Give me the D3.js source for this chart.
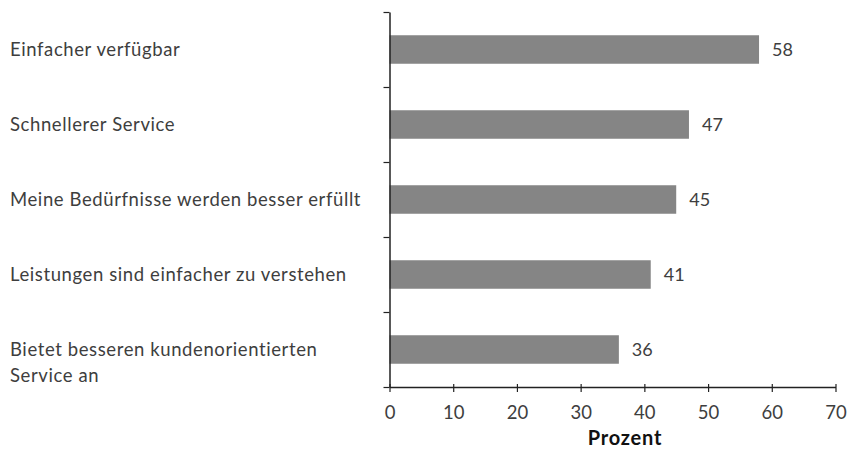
<!DOCTYPE html>
<html><head><meta charset="utf-8">
<script src="https://cdn.jsdelivr.net/npm/d3@7"></script>
<style>body{margin:0;background:#fff;} text{font-family:Lato, "Open Sans", sans-serif;}</style>
</head><body><svg id="c" width="851" height="450"></svg>
<script>
const categories = [
  ["Einfacher verfügbar"],
  ["Schnellerer Service"],
  ["Meine Bedürfnisse werden besser erfüllt"],
  ["Leistungen sind einfacher zu verstehen"],
  ["Bietet besseren kundenorientierten", "Service an"]
];
const values = [58, 47, 45, 41, 36];
const xTicks = [0, 10, 20, 30, 40, 50, 60, 70];
const xTitle = "Prozent";

const svg = d3.select("#c");
const m = {left: 389.5, right: 835.5, top: 12, bottom: 387};
const x = d3.scaleLinear().domain([0, 70]).range([m.left, m.right]);
const y = d3.scaleBand().domain(d3.range(categories.length)).range([m.top, m.bottom]).paddingInner(0.62).paddingOuter(0.31);

const txt = "#3e3e3e";

// bars
svg.selectAll("rect.bar").data(values).enter().append("rect")
  .attr("x", x(0)).attr("y", (d,i) => y(i))
  .attr("width", d => x(d) - x(0)).attr("height", y.bandwidth())
  .attr("fill", "#858585");

// value labels
svg.selectAll("text.val").data(values).enter().append("text")
  .attr("x", d => x(d) + 13).attr("y", (d,i) => y(i) + y.bandwidth()/2)
  .attr("dy", "0.35em").attr("font-size", 18).attr("fill", txt).text(d => d);

// y axis with ticks at band boundaries
const yLine = d3.scaleLinear().domain([0, categories.length]).range([m.top, m.bottom]);
const gy = svg.append("g").attr("transform", `translate(${m.left},0)`)
  .call(d3.axisLeft(yLine).tickValues(d3.range(categories.length + 1)).tickSize(6).tickFormat("").tickSizeOuter(0));
gy.select(".domain").attr("stroke", "#222").attr("stroke-width", 1.5);
gy.selectAll(".tick line").attr("stroke", "#222").attr("stroke-width", 1.2);

// category labels
categories.forEach((lines, i) => {
  const t = svg.append("text").attr("x", 10).attr("y", y(i) + y.bandwidth()/2)
    .attr("font-size", 18.5).attr("fill", txt).attr("letter-spacing", 0.6);
  lines.forEach((l, j) => t.append("tspan").attr("x", 10).attr("dy", j === 0 ? "0.35em" : 26).text(l));
});

// x axis
const gx = svg.append("g").attr("transform", `translate(0,${m.bottom})`)
  .call(d3.axisBottom(x).tickValues(xTicks).tickSize(5).tickSizeOuter(0).tickPadding(14));
gx.select(".domain").attr("stroke", "#222").attr("stroke-width", 1.5);
gx.selectAll(".tick line").attr("stroke", "#222").attr("stroke-width", 1.2).attr("y1", -3);
gx.selectAll(".tick text").attr("font-size", 18.5).attr("fill", txt).attr("font-family", "Lato, sans-serif");

svg.append("text").attr("x", 625).attr("y", 445).attr("text-anchor", "middle")
  .attr("font-size", 20).attr("font-weight", "bold").attr("letter-spacing", 0.8).attr("fill", "#111").text(xTitle);
</script></body></html>
